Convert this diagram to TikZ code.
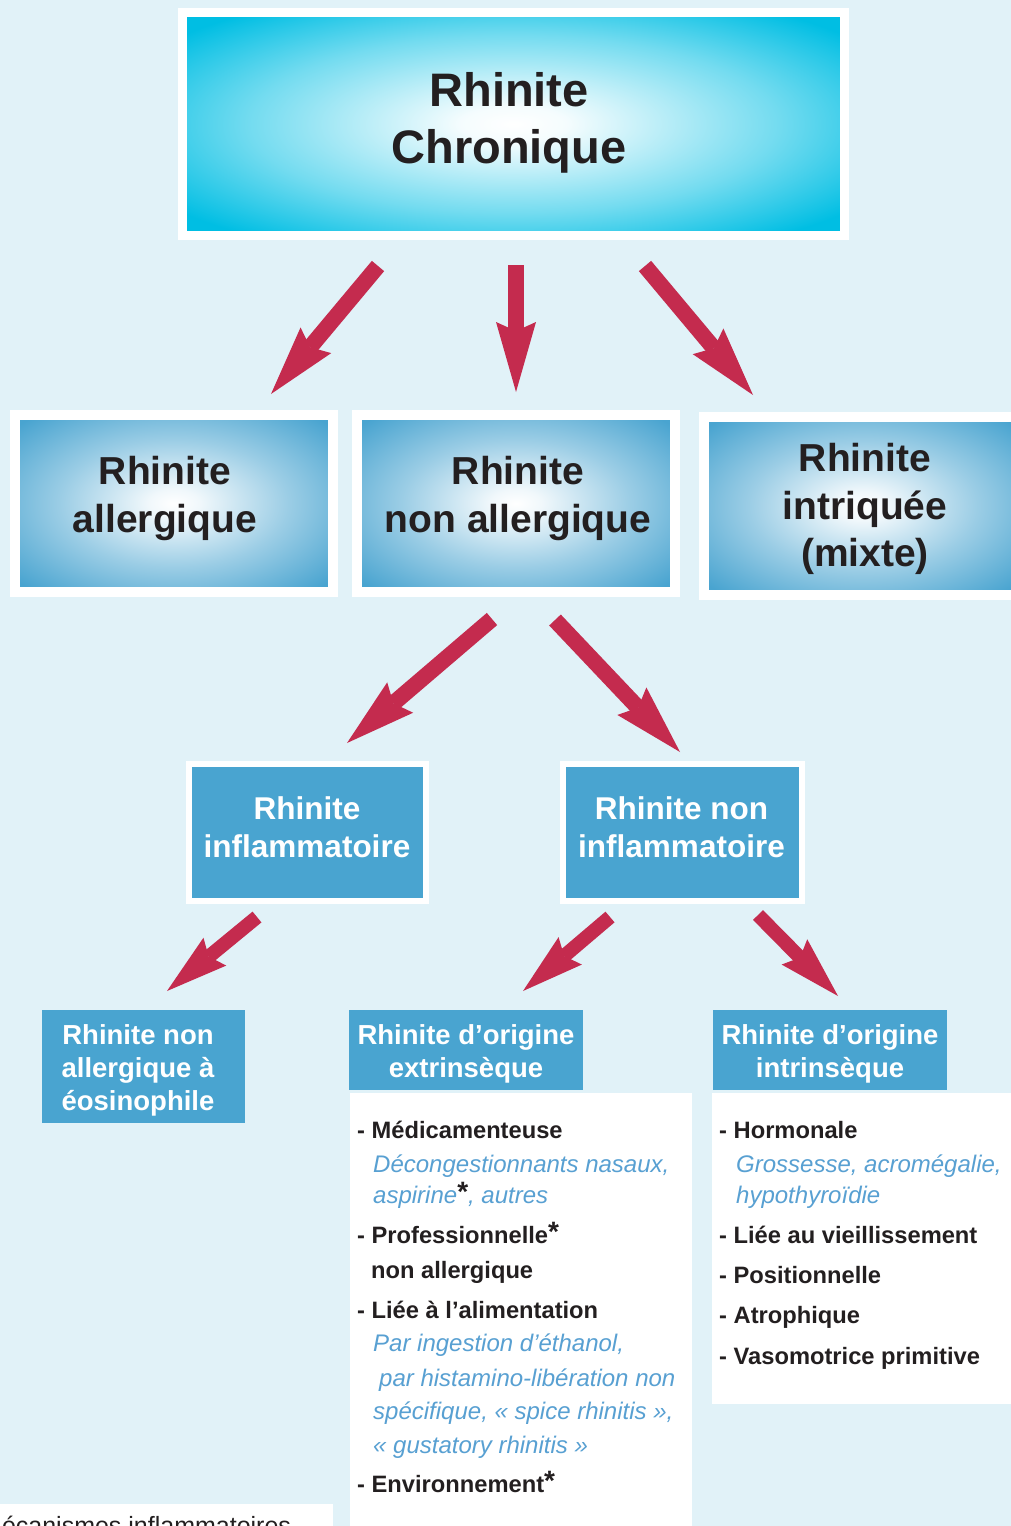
\documentclass[tikz,border=0pt]{standalone}
\usepackage{fontspec}
\setmainfont{Liberation Sans}
\usetikzlibrary{arrows.meta}
\definecolor{bg}{RGB}{225,242,248}
\definecolor{topcyan}{RGB}{0,190,227}
\definecolor{boxblue}{RGB}{73,164,208}
\definecolor{arrred}{RGB}{196,43,78}
\definecolor{dark}{RGB}{35,31,32}
\definecolor{lblue}{RGB}{88,160,210}
\pgfdeclareradialshading{topshade}{\pgfpoint{0bp}{0bp}}{color(0bp)=(white); color(4bp)=(white!96!topcyan); color(20bp)=(white!45!topcyan); color(32bp)=(topcyan); color(50bp)=(topcyan)}
\pgfdeclareradialshading{blueshade}{\pgfpoint{0bp}{0bp}}{color(0bp)=(white); color(4bp)=(white!92!boxblue); color(18bp)=(white!45!boxblue); color(33bp)=(boxblue); color(50bp)=(boxblue)}
\newcommand\myast{{\color{dark}\fontsize{28}{28}\selectfont\bfseries\upshape\raisebox{2pt}{*}}}
\begin{document}
\begin{tikzpicture}[x=1pt,y=-1pt,
  box/.style={rectangle, inner sep=0pt, outer sep=0pt},
  bigtxt/.style={inner sep=0pt, align=center, text=dark, font=\fontsize{47}{57}\selectfont\bfseries},
  midtxt/.style={inner sep=0pt, align=center, text=dark, font=\fontsize{39}{47.5}\selectfont\bfseries},
  wtxt/.style={inner sep=0pt, align=center, text=white, font=\fontsize{31.5}{38}\selectfont\bfseries},
  stxt/.style={inner sep=0pt, align=center, text=white, font=\fontsize{27.5}{33}\selectfont\bfseries},
  itm/.style={anchor=base west, inner sep=0pt, text=dark, font=\fontsize{23.7}{28}\selectfont\bfseries},
  itl/.style={anchor=base west, inner sep=0pt, text=lblue, font=\fontsize{24}{28}\selectfont\itshape},
  bigarr/.style={draw=arrred, line width=16pt, -{Stealth[length=70pt, width=40pt, inset=9pt, line width=0pt]}},
  smallarr/.style={draw=arrred, line width=14pt, -{Stealth[length=62pt, width=36pt, inset=8pt, line width=0pt]}}
]
\useasboundingbox (0,0) rectangle (1011,1526);
\clip (0,0) rectangle (1011,1526);
\fill[bg] (0,0) rectangle (1011,1526);

% top box
\node[box, shading=topshade, draw=white, line width=9pt, minimum width=662pt, minimum height=223pt] (chron) at (513.5,124) {};
\node[bigtxt] (chronT) at (509,123) {Rhinite\\Chronique};

% second row
\node[box, shading=blueshade, draw=white, line width=10pt, minimum width=318pt, minimum height=177pt] (allerg) at (174,503.5) {};
\node[box, shading=blueshade, draw=white, line width=10pt, minimum width=318pt, minimum height=177pt] (nonall) at (516,503.5) {};
\node[box, shading=blueshade, draw=white, line width=10pt, minimum width=318pt, minimum height=178pt] (mixte) at (863,506) {};
\node[midtxt] (allergT) at (165,498.5) {Rhinite\\allergique};
\node[midtxt] (nonallT) at (518,498.5) {Rhinite\\non allergique};
\node[midtxt] (mixteT) at (865,509) {Rhinite\\intriquée\\(mixte)};

% third row
\node[box, fill=boxblue, draw=white, line width=6pt, minimum width=237pt, minimum height=137pt] (infl) at (307.5,832.5) {};
\node[box, fill=boxblue, draw=white, line width=6pt, minimum width=239pt, minimum height=137pt] (noninfl) at (682.5,832.5) {};
\node[wtxt] (inflT) at (307,827.5) {Rhinite\\inflammatoire};
\node[wtxt] (noninflT) at (681.5,827.5) {Rhinite non\\inflammatoire};

% fourth row
\node[box, fill=boxblue, minimum width=203pt, minimum height=113pt] (eos) at (143.5,1066.5) {};
\node[stxt] (eosT) at (138,1070) {Rhinite non\\allergique à\\éosinophile};
\node[box, fill=white, minimum width=342pt, minimum height=437pt] (extrL) at (521,1311.5) {};
\node[box, fill=white, minimum width=303pt, minimum height=311pt] (intrL) at (863.5,1248.5) {};
\node[box, fill=boxblue, minimum width=234pt, minimum height=80pt] (extr) at (466,1050) {};
\node[box, fill=boxblue, minimum width=234pt, minimum height=80pt] (intr) at (830,1050) {};
\node[stxt] (extrT) at (466,1054) {Rhinite d’origine\\extrinsèque};
\node[stxt] (intrT) at (830,1054) {Rhinite d’origine\\intrinsèque};

% extrinsic list
\node[itm] (e1) at (357,1138) {- Médicamenteuse};
\node[itl] (e2) at (373,1172) {Décongestionnants nasaux,};
\node[itl] (e3) at (373,1203) {aspirine\myast, autres};
\node[itm] (e4) at (357,1243) {- Professionnelle\myast};
\node[itm] (e5) at (371,1278) {non allergique};
\node[itm] (e6) at (357,1318) {- Liée à l’alimentation};
\node[itl] (e7) at (373,1351) {Par ingestion d’éthanol,};
\node[itl] (e8) at (379,1386) {par histamino-libération non};
\node[itl] (e9) at (373,1419) {spécifique, « spice rhinitis »,};
\node[itl] (e10) at (373,1453) {« gustatory rhinitis »};
\node[itm] (e11) at (357,1492) {- Environnement\myast};

% intrinsic list
\node[itm] (i1) at (719,1138) {- Hormonale};
\node[itl] (i2) at (736,1172) {Grossesse, acromégalie,};
\node[itl] (i3) at (736,1203) {hypothyroïdie};
\node[itm] (i4) at (719,1243) {- Liée au vieillissement};
\node[itm] (i5) at (719,1283) {- Positionnelle};
\node[itm] (i6) at (719,1323) {- Atrophique};
\node[itm] (i7) at (719,1364) {- Vasomotrice primitive};

% bottom cut-off caption
\node[box, fill=white, minimum width=333pt, minimum height=30pt, anchor=north west] (meca) at (0,1504) {};
\node[anchor=base west, inner sep=0pt, text=dark, font=\fontsize{25}{30}\selectfont] (mecaT) at (-19,1534) {Mécanismes inflammatoires};

% arrows
\coordinate (a1s) at (378,266); \coordinate (a1e) at (271,394);
\coordinate (a2s) at (516,265); \coordinate (a2e) at (516,392);
\coordinate (a3s) at (645,266); \coordinate (a3e) at (753,395);
\coordinate (a4s) at (492,619); \coordinate (a4e) at (347,743);
\coordinate (a5s) at (555,620); \coordinate (a5e) at (680,752);
\coordinate (a6s) at (257,917); \coordinate (a6e) at (167,991);
\coordinate (a7s) at (610,917); \coordinate (a7e) at (523,991);
\coordinate (a8s) at (758,915); \coordinate (a8e) at (838,996);
\draw[bigarr] (a1s) -- (a1e);
\draw[bigarr] (a2s) -- (a2e);
\draw[bigarr] (a3s) -- (a3e);
\draw[bigarr] (a4s) -- (a4e);
\draw[bigarr] (a5s) -- (a5e);
\draw[smallarr] (a6s) -- (a6e);
\draw[smallarr] (a7s) -- (a7e);
\draw[smallarr] (a8s) -- (a8e);
\end{tikzpicture}
\end{document}
